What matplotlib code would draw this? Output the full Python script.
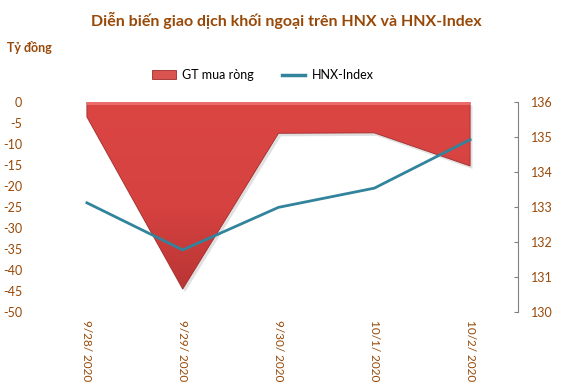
import matplotlib
matplotlib.use("Agg")
import matplotlib.pyplot as plt
import numpy as np
from matplotlib.patches import Patch
from matplotlib.lines import Line2D
from matplotlib.colors import LinearSegmentedColormap

dates = ["9/28/ 2020", "9/29/ 2020", "9/30/ 2020", "10/1/ 2020", "10/2/ 2020"]
gt_mua_rong = [-3.5, -44.6, -7.4, -7.3, -15.2]
hnx_index = [133.12, 131.77, 132.99, 133.54, 134.93]
left_ticks = [0, -5, -10, -15, -20, -25, -30, -35, -40, -45, -50]
right_ticks = [130, 131, 132, 133, 134, 135, 136]

brown = "#984807"
plt.rcParams['font.family'] = ['Lato', 'DejaVu Sans']

fig = plt.figure(figsize=(5.72, 3.82), dpi=100)
ax = fig.add_axes([39/572, 1-311.7/382, (518-39)/572, (311.7-102.3)/382])
x = np.arange(len(dates))

# soft shadow
ax.fill_between(x + 0.02, np.array(gt_mua_rong) - 0.6, -0.6, color="#000000", alpha=0.12, lw=0, zorder=1)
# gradient area
poly = ax.fill_between(x, gt_mua_rong, 0, color="none", lw=0, zorder=2)
grad = np.linspace(0, 1, 256).reshape(-1, 1)
cmap = LinearSegmentedColormap.from_list("r", ["#DB4643", "#D54240", "#B23131"])
img = ax.imshow(grad, extent=[-0.5, 4.5, -50, 0], aspect="auto", cmap=cmap, origin="upper", zorder=2)
img.set_clip_path(poly.get_paths()[0], transform=ax.transData)
ax.fill_between(x, gt_mua_rong, 0, facecolor="none", edgecolor="#A02C2C", lw=0.6, zorder=3)
ax.fill_between(x, -0.7, 0, color="#F07070", lw=0, zorder=3, alpha=0.9)

ax.set_xlim(-0.5, 4.5)
ax.set_ylim(-50, 0)
ax.set_yticks(left_ticks)
ax.set_yticklabels([str(t) for t in left_ticks], color=brown, fontsize=9)
ax.tick_params(axis='y', length=0, pad=12)
ax.set_xticks(x)
ax.set_xticklabels(dates, rotation=270, color=brown, fontsize=8.5, va="top", ha="center")
ax.tick_params(axis='x', length=0, pad=6)
for s in ax.spines.values():
    s.set_visible(False)

ax2 = ax.twinx()
ax2.plot(x, hnx_index, color="#31849B", lw=2.0, zorder=5)
ax2.set_ylim(130, 136)
ax2.set_yticks(right_ticks)
ax2.set_yticklabels([str(t) for t in right_ticks], color=brown, fontsize=9)
ax2.tick_params(axis='y', direction='in', length=3, color="#808080", pad=9)
for k, s in ax2.spines.items():
    s.set_visible(k == 'right')
ax2.spines['right'].set_color("#808080")
ax2.spines['right'].set_linewidth(0.8)
ax2.set_xlim(-0.5, 4.5)

fig.text(0.5, 1-20/382, "Diễn biến giao dịch khối ngoại trên HNX và HNX-Index", ha="center", va="center",
         color=brown, fontsize=11.5, fontweight="bold")
fig.text(7/572, 1-47/382, "Tỷ đồng", ha="left", va="center", color=brown, fontsize=9, fontweight="bold")

handles = [Patch(facecolor="#D9534F", edgecolor="#9E2B2B", lw=0.6), Line2D([0], [0], color="#31849B", lw=2.5)]
fig.legend(handles, ["GT mua ròng", "HNX-Index"], loc="center", bbox_to_anchor=(263/572, 1-75/382), ncol=2,
           frameon=False, fontsize=9, handlelength=1.9, handleheight=0.7, handletextpad=0.5,
           columnspacing=2.2)

fig.savefig("out.png", dpi=100)
